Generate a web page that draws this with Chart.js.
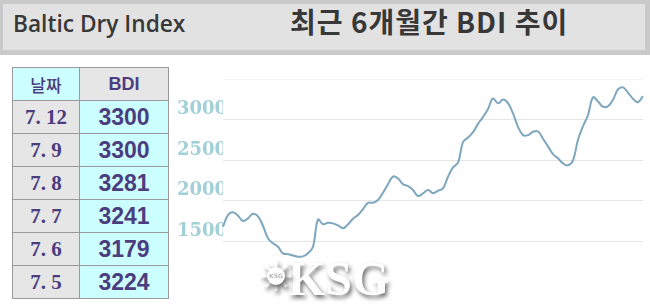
<!DOCTYPE html>
<html>
<head>
<meta charset="utf-8">
<script src="https://cdn.jsdelivr.net/npm/chart.js@4"></script>
<style>
    body { margin: 0; background: #ffffff; width: 650px; height: 306px; overflow: hidden; position: relative; }
    #header { position: absolute; left: 0; top: 0; width: 650px; height: 55px; background: #c9c9c9; }
    #headerInner { position: absolute; left: 3px; top: 4px; width: 642px; height: 46px; background: #e2e2e2; }
    #titleEn { position: absolute; left: 13px; top: 6px; font-family: "Open Sans", sans-serif; font-weight: 600; font-size: 24px; color: #383838; transform: scaleX(0.945); transform-origin: left center; white-space: nowrap; }
    #titleKo { position: absolute; left: 290px; top: 1px; font-family: "Noto Sans CJK KR", sans-serif; font-weight: 700; font-size: 28px; letter-spacing: 1px; color: #383838; white-space: nowrap; }
    #bdiTable { position: absolute; left: 12px; top: 67px; border-collapse: collapse; }
    #bdiTable td { border: 1px solid #9a9a9a; height: 32px; padding: 0; text-align: center; color: #4b3d80; }
    #bdiTable .date { width: 66px; background: #e6e6e6; font-family: "Liberation Serif", serif; font-weight: bold; font-size: 21px; }
    #bdiTable .val { width: 88px; background: #ccffff; font-family: "Liberation Sans", sans-serif; font-weight: bold; font-size: 23px; }
    #bdiTable .hdDate { background: #ccffff; font-family: "Noto Sans CJK KR", sans-serif; font-size: 17px; font-weight: 500; }
    #bdiTable .hdVal { background: #e6e6e6; font-family: "Liberation Sans", sans-serif; font-weight: bold; font-size: 18px; }
    #chartBox { position: absolute; left: 170px; top: 60px; width: 480px; height: 246px; }
</style>
</head>
<body>
<div id="header"><div id="headerInner"></div></div>
<div id="titleEn">Baltic Dry Index</div>
<div id="titleKo">최근 6개월간 BDI 추이</div>
<table id="bdiTable"></table>
<div id="chartBox"><canvas id="bdiChart"></canvas></div>
<script>
// recent days shown in the table
const tableDates = ['7. 12', '7. 9', '7. 8', '7. 7', '7. 6', '7. 5'];
const tableValues = [3300, 3300, 3281, 3241, 3179, 3224];

// 6 month trend (oldest first)
const bdiValues = [
    1681, 1825, 1860, 1817, 1752, 1784, 1841, 1807, 1690, 1540,
    1476, 1435, 1352, 1342, 1327, 1312, 1315, 1354, 1435, 1769,
    1712, 1729, 1722, 1697, 1662, 1710, 1780, 1824, 1897, 1974,
    1976, 2010, 2100, 2204, 2299, 2274, 2204, 2182, 2133, 2059,
    2092, 2133, 2094, 2124, 2154, 2296, 2412, 2469, 2721, 2780,
    2845, 2947, 3030, 3130, 3260, 3200, 3246, 3202, 3076, 2911,
    2809, 2809, 2850, 2854, 2765, 2670, 2576, 2523, 2461, 2437,
    2499, 2753, 2919, 3055, 3273, 3224, 3159, 3165, 3245, 3371,
    3397, 3333, 3257, 3214, 3289
];
const dayLabels = bdiValues.map((v, i) => i + 1);

const yMin = 1000;
const yMax = 3500;
const yStep = 500;
const shownTicks = [1500, 2000, 2500, 3000];

// table
const table = document.getElementById('bdiTable');
let head = document.createElement('tr');
head.innerHTML = '<td class="hdDate">날짜</td><td class="hdVal">BDI</td>';
table.appendChild(head);
tableDates.forEach((d, i) => {
    const tr = document.createElement('tr');
    const tdDate = document.createElement('td');
    const tdVal = document.createElement('td');
    tdDate.className = 'date';
    tdVal.className = 'val';
    tdDate.textContent = d;
    tdVal.textContent = tableValues[i];
    tr.appendChild(tdDate);
    tr.appendChild(tdVal);
    table.appendChild(tr);
});

// KSG watermark
const watermark = {
    id: 'watermark',
    afterDatasetsDraw(chart) {
        const c = chart.ctx;
        c.save();
        c.shadowColor = 'rgba(70,70,70,0.8)';
        c.shadowBlur = 4;
        c.shadowOffsetX = 2;
        c.shadowOffsetY = 3;
        c.fillStyle = '#ffffff';
        c.font = 'bold 48px "Liberation Serif", serif';
        c.textBaseline = 'alphabetic';
        c.fillText('KSG', 118, 235);
        // wheel
        const cx = 106, cy = 216;
        c.strokeStyle = '#ffffff';
        c.lineWidth = 3;
        for (let a = 0; a < 8; a++) {
            const ang = a * Math.PI / 4;
            c.beginPath();
            c.moveTo(cx + Math.cos(ang) * 8, cy + Math.sin(ang) * 8);
            c.lineTo(cx + Math.cos(ang) * 15, cy + Math.sin(ang) * 15);
            c.stroke();
        }
        c.beginPath();
        c.arc(cx, cy, 9, 0, Math.PI * 2);
        c.fill();
        c.shadowColor = 'transparent';
        c.fillStyle = '#b8b8b8';
        c.font = 'bold 6px "DejaVu Sans", sans-serif';
        c.textAlign = 'center';
        c.fillText('KSG', cx, cy + 2);
        c.restore();
    }
};

const ctx = document.getElementById('bdiChart').getContext('2d');
const bdiChart = new Chart(ctx, {
    type: 'line',
    data: {
        labels: dayLabels,
        datasets: [{
            data: bdiValues,
            borderColor: '#7ea6bf',
            borderWidth: 2,
            pointRadius: 0,
            tension: 0.4,
            fill: false
        }]
    },
    options: {
        responsive: true,
        maintainAspectRatio: false,
        animation: false,
        layout: { padding: { top: 19, bottom: 24, right: 7, left: 0 } },
        plugins: { legend: { display: false }, tooltip: { enabled: false } },
        scales: {
            x: { display: false },
            y: {
                min: yMin,
                max: yMax,
                border: { display: false },
                afterFit(scale) { scale.width = 53; },
                grid: {
                    drawTicks: false,
                    color: (c) => {
                        if (c.tick.value === yMin) return 'rgba(0,0,0,0)';
                        if (c.tick.value === yMax) return '#f4f4f4';
                        return '#e6e6e6';
                    }
                },
                ticks: {
                    stepSize: yStep,
                    padding: -4,
                    labelOffset: -10,
                    color: '#a2d0d7',
                    font: { family: '"DejaVu Serif", serif', size: 18, weight: 'bold' },
                    callback: (v) => shownTicks.includes(v) ? String(v) : ''
                }
            }
        }
    },
    plugins: [watermark]
});
</script>
</body>
</html>
